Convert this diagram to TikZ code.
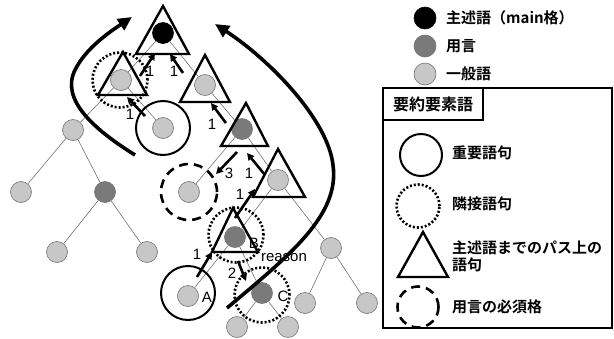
\documentclass[tikz,border=0pt]{standalone}
\usepackage{fontspec}
\setmainfont{Liberation Sans}
\newfontfamily\jp{Noto Sans CJK JP Bold}
\usetikzlibrary{arrows.meta,calc}
\begin{document}
\begin{tikzpicture}[x=1pt,y=-1pt,
  wn/.style={circle,minimum size=21pt,inner sep=0pt,draw=black!55,line width=0.6pt},
  light/.style={wn,fill=black!22},
  dark/.style={wn,fill=black!52},
  blk/.style={wn,fill=black,draw=black},
  edge/.style={draw=black!55,line width=0.6pt},
  tri/.style={line width=2.4pt,line join=miter},
  imp/.style={circle,draw,line width=2pt,minimum size=54pt,inner sep=0pt},
  adj/.style={circle,draw,line width=2.6pt,dash pattern=on 2pt off 2pt,minimum size=55pt,inner sep=0pt},
  req/.style={circle,draw,line width=2.6pt,dash pattern=on 9pt off 6pt,minimum size=56pt,inner sep=0pt},
  parr/.style={line width=2.6pt,-{Triangle[length=7pt,width=7pt]}},
  big/.style={line width=3.6pt,-{Triangle[length=14pt,width=13pt]}},
  num/.style={font=\fontsize{15}{15}\selectfont,inner sep=0pt},
  lg/.style={font=\jp\fontsize{15}{17}\selectfont,anchor=west,inner sep=0pt,align=left},
]
\useasboundingbox (0,0) rectangle (614,338);

% tree nodes
\node[blk]   (root) at (163,33) {};
\node[light] (L1) at (121,80) {};
\node[light] (R1) at (205,85) {};
\node[light] (M1) at (163,128) {};
\node[light] (L2) at (73,130) {};
\node[light] (L3) at (21,192) {};
\node[dark]  (L4) at (105,192) {};
\node[light] (L5) at (57,252) {};
\node[light] (L6) at (147,252) {};
\node[dark]  (D) at (242,129) {};
\node[light] (E) at (189,192) {};
\node[light] (F) at (278,180) {};
\node[dark]  (B) at (235,237) {};
\node[light] (G) at (331,248) {};
\node[light] (A) at (188,296) {};
\node[dark]  (C) at (262,293) {};
\node[light] (C1) at (237,327) {};
\node[light] (C2) at (288,327) {};
\node[light] (G1) at (305,303) {};
\node[light] (G2) at (367,303) {};

% tree edges
\foreach \p/\c in {root/L1,root/R1,L1/M1,L1/L2,L2/L3,L2/L4,L4/L5,L4/L6,R1/D,D/E,D/F,F/B,F/G,B/A,B/C,C/C1,C/C2,G/G1,G/G2}
  \draw[edge] (\p) -- (\c);

% marker circles
\node[adj] (cL1) at (120,80) {};
\node[imp] (cM1) at (163,128) {};
\node[req] (cE) at (189,192) {};
\node[adj] (cB) at (236,235) {};
\node[imp] (cA) at (188,293) {};
\node[adj] (cC) at (262,295) {};

% triangles (path to main predicate)
\draw[tri] (163,6) -- (136,54) -- (189,54) -- cycle;
\draw[tri] (123,52) -- (98,95) -- (147,95) -- cycle;
\draw[tri] (205,55) -- (180,102) -- (230,102) -- cycle;
\draw[tri] (246,103) -- (221,146) -- (268,146) -- cycle;
\draw[tri] (278,149) -- (253,197) -- (305,197) -- cycle;
\draw[tri] (233,208) -- (212,252) -- (258,252) -- cycle;

% path arrows
\draw[parr] (197,277) -- (212,252);
\draw[parr] (235,218) -- (255,189);
\draw[parr] (265,175) -- (247,153);
\draw[parr] (237,152) -- (216,174);
\draw[parr] (226,123) -- (211,103);
\draw[parr] (145,116) -- (127,97);
\draw[parr] (140,76) -- (155,53);
\draw[parr] (183,73) -- (170,54);
\draw[parr] (238,261) -- (246,281);

\node[num] at (197,254) {1};
\node[num] at (240,194) {1};
\node[num] at (249,173) {1};
\node[num] at (229,173) {3};
\node[num] at (212,124) {1};
\node[num] at (130,114) {1};
\node[num] at (150,71) {1};
\node[num] at (174,71) {1};
\node[num] at (232,273) {2};
\node[num] at (207,297) {A};
\node[num] at (254,243) {B};
\node[num] at (283,296) {C};
\node[num] at (284,258) {reason};

% big curved arrows
\draw[big] (135,155) .. controls (95,130) and (60,100) .. (75,70)
           .. controls (85,50) and (105,35) .. (132,17);
\draw[big] (227,308) .. controls (290,255) and (340,215) .. (333,165)
           .. controls (328,120) and (270,60) .. (215,24);

% legend
\node[blk,minimum size=22pt]   (k1) at (425,18) {};
\node[dark,minimum size=22pt]  (k2) at (425,46) {};
\node[light,minimum size=22pt] (k3) at (425,74) {};
\node[lg] at (446,18) {主述語（main格）};
\node[lg] at (446,46) {用言};
\node[lg] at (446,74) {一般語};

\draw[line width=1.2pt] (383,88) rectangle (612,328);
\draw[line width=1.2pt] (383,88) rectangle (483,120);
\node[font=\jp\fontsize{16}{18}\selectfont,inner sep=0pt] at (433,104) {要約要素語};

\node[imp,minimum size=42pt] (k4) at (421,155) {};
\node[lg] at (452,153) {重要語句};
\node[adj,minimum size=43pt] (k5) at (418,206) {};
\node[lg] at (452,204) {隣接語句};
\draw[tri] (423,232) -- (398,277) -- (448,277) -- cycle;
\node[lg] at (452,256) {主述語までのパス上の\\語句};
\node[req,minimum size=41pt] (k6) at (418,307) {};
\node[lg] at (452,307) {用言の必須格};
\end{tikzpicture}
\end{document}
